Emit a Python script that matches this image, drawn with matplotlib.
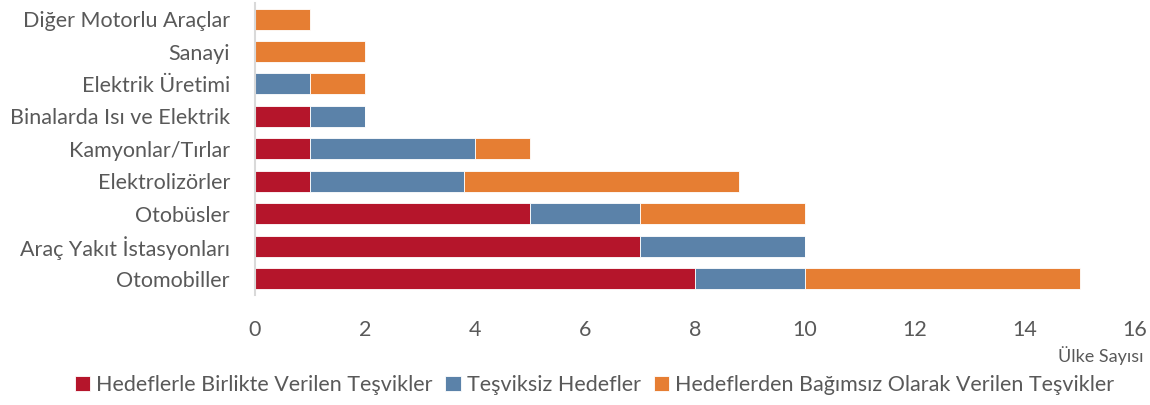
import matplotlib.pyplot as plt
import numpy as np

plt.rcParams['font.family'] = ['Lato', 'DejaVu Sans']

categories = ['Diğer Motorlu Araçlar', 'Sanayi', 'Elektrik Üretimi',
              'Binalarda Isı ve Elektrik', 'Kamyonlar/Tırlar', 'Elektrolizörler',
              'Otobüsler', 'Araç Yakıt İstasyonları', 'Otomobiller']
hedefli_tesvik = [0, 0, 0, 1, 1, 1, 5, 7, 8]
tesviksiz_hedef = [0, 0, 1, 1, 3, 2.8, 2, 3, 2]
bagimsiz_tesvik = [1, 2, 1, 0, 1, 5, 3, 0, 5]
series_names = ['Hedeflerle Birlikte Verilen Teşvikler', 'Teşviksiz Hedefler',
                'Hedeflerden Bağımsız Olarak Verilen Teşvikler']
colors = ['#B5152B', '#5B82A9', '#E67E33']
text_color = '#595959'

fig = plt.figure(figsize=(11.5, 4.05), dpi=100)
ax = fig.add_axes([0.2217, 0.272, 0.7652, 0.721])

y = np.arange(len(categories))[::-1]
left = np.zeros(len(categories))
for vals, name, c in zip([hedefli_tesvik, tesviksiz_hedef, bagimsiz_tesvik], series_names, colors):
    vals = np.array(vals, dtype=float)
    ax.barh(y, vals, left=left, height=0.65, color=c, label=name,
            edgecolor='white', linewidth=0.6)
    left += vals

ax.set_xlim(0, 16)
ax.set_ylim(-0.5, len(categories) - 0.5)
ax.set_xticks(range(0, 17, 2))
ax.set_yticks(y)
ax.set_yticklabels(categories)
ax.tick_params(axis='both', length=0, labelsize=15.5, colors=text_color)
ax.tick_params(axis='x', pad=18)
ax.tick_params(axis='y', pad=18)
for s in ['top', 'right', 'bottom']:
    ax.spines[s].set_visible(False)
ax.spines['left'].set_color('#D9D9D9')
ax.spines['left'].set_linewidth(1.5)

fig.text(0.994, 0.123, 'Ülke Sayısı', ha='right', va='center', fontsize=13, color=text_color)

handles, labels = ax.get_legend_handles_labels()
fig.legend(handles, labels, loc='center', bbox_to_anchor=(0.517, 0.05), ncol=3,
           frameon=False, fontsize=15.5, labelcolor=text_color, handlelength=0.7,
           handleheight=0.7, handletextpad=0.3, columnspacing=0.6)

fig.savefig('out.png', dpi=100)
